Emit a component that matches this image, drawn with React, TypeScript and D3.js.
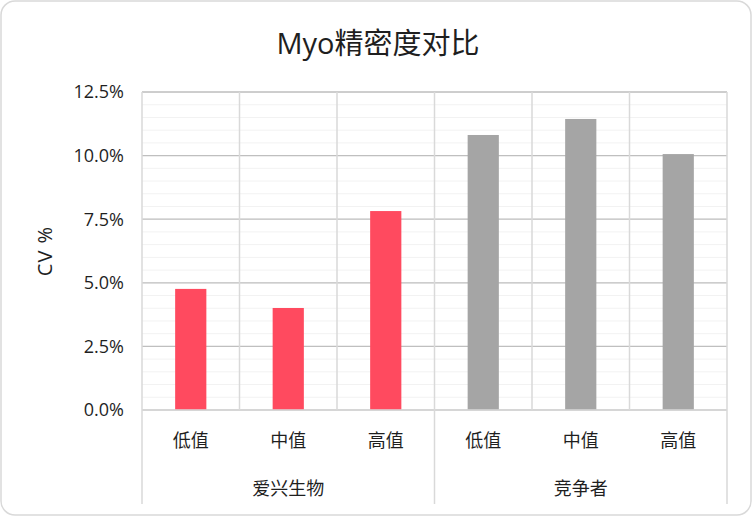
import React from "react";
import * as d3 from "d3";

const groups = ["爱兴生物", "竞争者"];
const levels = ["低值", "中值", "高值"];
const aixingValues = [0.0476, 0.0401, 0.0782];
const competitorValues = [0.1081, 0.1144, 0.1006];
const groupColors = ["#ff4a5f", "#a5a5a5"];
const yTicks = [0, 0.025, 0.05, 0.075, 0.1, 0.125];

const W = 752;
const H = 516;
const FONT = "'Open Sans', 'Noto Sans CJK SC', sans-serif";
const TEXT = "#1f1f1f";

export default function App() {
  const left = 142;
  const right = 727;
  const top = 92;
  const bottom = 410;

  const rows = [
    ...levels.map((l, i) => ({ group: 0, level: l, value: aixingValues[i], key: `0-${i}` })),
    ...levels.map((l, i) => ({ group: 1, level: l, value: competitorValues[i], key: `1-${i}` })),
  ];

  const x = d3.scaleBand<string>().domain(rows.map((r) => r.key)).range([left, right]).paddingInner(0).paddingOuter(0);
  const y = d3.scaleLinear().domain([0, 0.125]).range([bottom, top]);
  const minorTicks = d3.range(0, 0.1251, 0.005);
  const fmt = d3.format(".1%");
  const bw = x.bandwidth();
  const barW = bw * 0.32;

  return (
    <svg width={W} height={H} style={{ position: "absolute", left: 0, top: 0 }} fontFamily={FONT}>
      <rect x={1} y={1} width={W - 2} height={H - 2} rx={14} fill="#fff" stroke="#d9d9d9" strokeWidth={1.5} />
      <text x={378} y={54} textAnchor="middle" fontSize={29} fill={TEXT}>Myo精密度对比</text>

      {minorTicks.map((t, i) => (
        <line key={`m${i}`} x1={left} x2={right} y1={y(t)} y2={y(t)} stroke="#f2f2f2" strokeWidth={1} />
      ))}
      {yTicks.map((t, i) => (
        <line key={`g${i}`} x1={left} x2={right} y1={y(t)} y2={y(t)} stroke="#bfbfbf" strokeWidth={1.3} />
      ))}
      {rows.map((r, i) => (
        <line key={`v${i}`} x1={x(r.key)!} x2={x(r.key)!} y1={top} y2={bottom} stroke="#d9d9d9" strokeWidth={1.5} />
      ))}
      <line x1={right} x2={right} y1={top} y2={bottom} stroke="#d9d9d9" strokeWidth={1.5} />

      {rows.map((r) => (
        <rect
          key={`b${r.key}`}
          x={x(r.key)! + (bw - barW) / 2}
          y={y(r.value)}
          width={barW}
          height={y(0) - y(r.value)}
          fill={groupColors[r.group]}
        />
      ))}

      <line x1={left} x2={right} y1={bottom} y2={bottom} stroke="#d9d9d9" strokeWidth={1.5} />
      {[0, 3, 6].map((i) => {
        const xx = i < 6 ? x(rows[i].key)! : right;
        return <line key={`s${i}`} x1={xx} x2={xx} y1={bottom} y2={504} stroke="#d9d9d9" strokeWidth={1.5} />;
      })}

      {yTicks.map((t, i) => (
        <text key={`yl${i}`} x={124} y={y(t)} dy="0.36em" textAnchor="end" fontSize={18} fill={TEXT}>
          {fmt(t)}
        </text>
      ))}
      <text transform={`translate(52,${(top + bottom) / 2}) rotate(-90)`} textAnchor="middle" fontSize={20} fill={TEXT} letterSpacing={1}>
        CV %
      </text>

      {rows.map((r) => (
        <text key={`c${r.key}`} x={x(r.key)! + bw / 2} y={447} textAnchor="middle" fontSize={18} fill={TEXT}>
          {r.level}
        </text>
      ))}
      {groups.map((g, gi) => (
        <text key={g} x={x(rows[gi * 3].key)! + bw * 1.5} y={495} textAnchor="middle" fontSize={18} fill={TEXT}>
          {g}
        </text>
      ))}
    </svg>
  );
}
